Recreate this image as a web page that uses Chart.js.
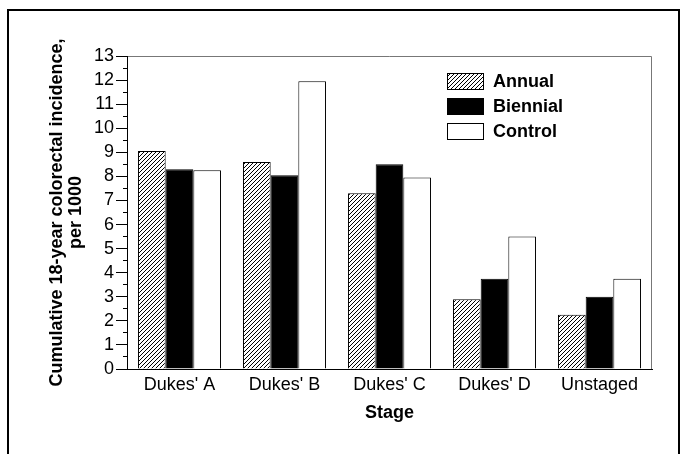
<!DOCTYPE html>
<html>
<head>
<meta charset="utf-8">
<script src="https://cdn.jsdelivr.net/npm/chart.js@4/dist/chart.umd.min.js"></script>
<style>
  html, body { margin: 0; padding: 0; background: #fff; }
  canvas { display: block; }
</style>
</head>
<body>
<canvas id="chart" width="684" height="454"></canvas>
<script>
// values (cumulative incidence per 1000)
const stages = ["Dukes' A", "Dukes' B", "Dukes' C", "Dukes' D", 'Unstaged'];
const seriesNames = ['Annual', 'Biennial', 'Control'];
const annual = [9.05, 8.6, 7.3, 2.9, 2.25];
const biennial = [8.3, 8.05, 8.5, 3.75, 3.0];
const control = [8.25, 11.95, 7.95, 5.5, 3.75];
const yTitle = ['Cumulative 18-year colorectal incidence,', 'per 1000'];
const xTitle = 'Stage';

Chart.defaults.font.family = "'Liberation Sans', Arial, sans-serif";
Chart.defaults.color = '#000';

// diagonal hatch used for the Annual bars
function makeHatch() {
    const c = document.createElement('canvas');
    c.width = 4;
    c.height = 4;
    const g = c.getContext('2d');
    g.fillStyle = '#fff';
    g.fillRect(0, 0, 4, 4);
    g.strokeStyle = '#000';
    g.lineWidth = 1;
    g.beginPath();
    g.moveTo(-1, 5); g.lineTo(5, -1);
    g.moveTo(-1, 1); g.lineTo(1, -1);
    g.moveTo(3, 5); g.lineTo(5, 3);
    g.stroke();
    return g.createPattern(c, 'repeat');
}
const hatch = makeHatch();

// outer frame + thin grey box around the plot
const framePlugin = {
    id: 'frame',
    beforeDraw(chart) {
        const { ctx, chartArea: a } = chart;
        ctx.save();
        ctx.strokeStyle = '#000';
        ctx.lineWidth = 2;
        ctx.beginPath();
        ctx.moveTo(8, 454);
        ctx.lineTo(8, 10);
        ctx.lineTo(679, 10);
        ctx.lineTo(679, 454);
        ctx.stroke();
        ctx.strokeStyle = '#777';
        ctx.lineWidth = 1;
        ctx.beginPath();
        ctx.moveTo(a.left, a.top + 0.5);
        ctx.lineTo(a.right - 0.5, a.top + 0.5);
        ctx.lineTo(a.right - 0.5, a.bottom);
        ctx.stroke();
        ctx.restore();
    },
};

// legend boxes in the upper right of the plot
const legendPlugin = {
    id: 'boxLegend',
    afterDraw(chart) {
        const { ctx } = chart;
        const x = 447, w = 37, h = 17;
        const rows = [81.5, 106.5, 131.5];
        ctx.save();
        chart.data.datasets.forEach((ds, i) => {
            const y = rows[i];
            ctx.fillStyle = ds.backgroundColor;
            ctx.fillRect(x, y - h / 2, w, h);
            ctx.strokeStyle = '#000';
            ctx.lineWidth = 1;
            ctx.strokeRect(x + 0.5, y - h / 2 + 0.5, w - 1, h - 1);
            ctx.fillStyle = '#000';
            ctx.font = "bold 18px 'Liberation Sans', Arial, sans-serif";
            ctx.textBaseline = 'middle';
            ctx.textAlign = 'left';
            ctx.fillText(ds.label, x + w + 9, y + 1);
        });
        ctx.restore();
    },
};

function barSet(label, data, fill) {
    return {
        label,
        data,
        backgroundColor: fill,
        borderColor: '#000',
        borderWidth: 1,
        barPercentage: 1.0,
        categoryPercentage: 0.79,
    };
}

new Chart(document.getElementById('chart'), {
    type: 'bar',
    data: {
        labels: stages,
        datasets: [
            barSet(seriesNames[0], annual, hatch),
            barSet(seriesNames[1], biennial, '#000'),
            barSet(seriesNames[2], control, '#fff'),
        ],
    },
    options: {
        responsive: false,
        animation: false,
        layout: { padding: { left: 0, top: 56, right: 32, bottom: 30 } },
        plugins: {
            legend: { display: false },
            tooltip: { enabled: false },
        },
        scales: {
            x: {
                grid: { display: false, drawTicks: false },
                border: { color: '#000', width: 1 },
                ticks: { font: { size: 18 }, padding: 5, color: '#000', autoSkip: false, maxRotation: 0 },
                title: {
                    display: true,
                    text: xTitle,
                    font: { size: 18, weight: 'bold', lineHeight: 1.2 },
                    padding: { top: 0, bottom: 0 },
                    color: '#000',
                },
                afterFit(scale) { scale.height = 55; },
            },
            y: {
                weight: 1,
                min: 0,
                max: 13,
                ticks: { stepSize: 1, font: { size: 18 }, padding: 2, color: '#000', autoSkip: false },
                grid: { drawOnChartArea: false, tickLength: 11, color: '#000' },
                border: { color: '#000', width: 1 },
                title: {
                    display: true,
                    text: yTitle,
                    font: { size: 18, weight: 'bold', lineHeight: 1.06 },
                    padding: { top: 47.5, bottom: 0 },
                    color: '#000',
                },
                afterFit(scale) { scale.width = 127; },
            },
            yMinor: {
                position: 'left',
                weight: 0,
                min: 0,
                max: 13,
                ticks: { stepSize: 0.5, display: false, autoSkip: false },
                grid: { drawOnChartArea: false, tickLength: 4, color: '#000' },
                border: { display: false },
                afterFit(scale) { scale.width = 0; },
            },
        },
    },
    plugins: [framePlugin, legendPlugin],
});
</script>
</body>
</html>
